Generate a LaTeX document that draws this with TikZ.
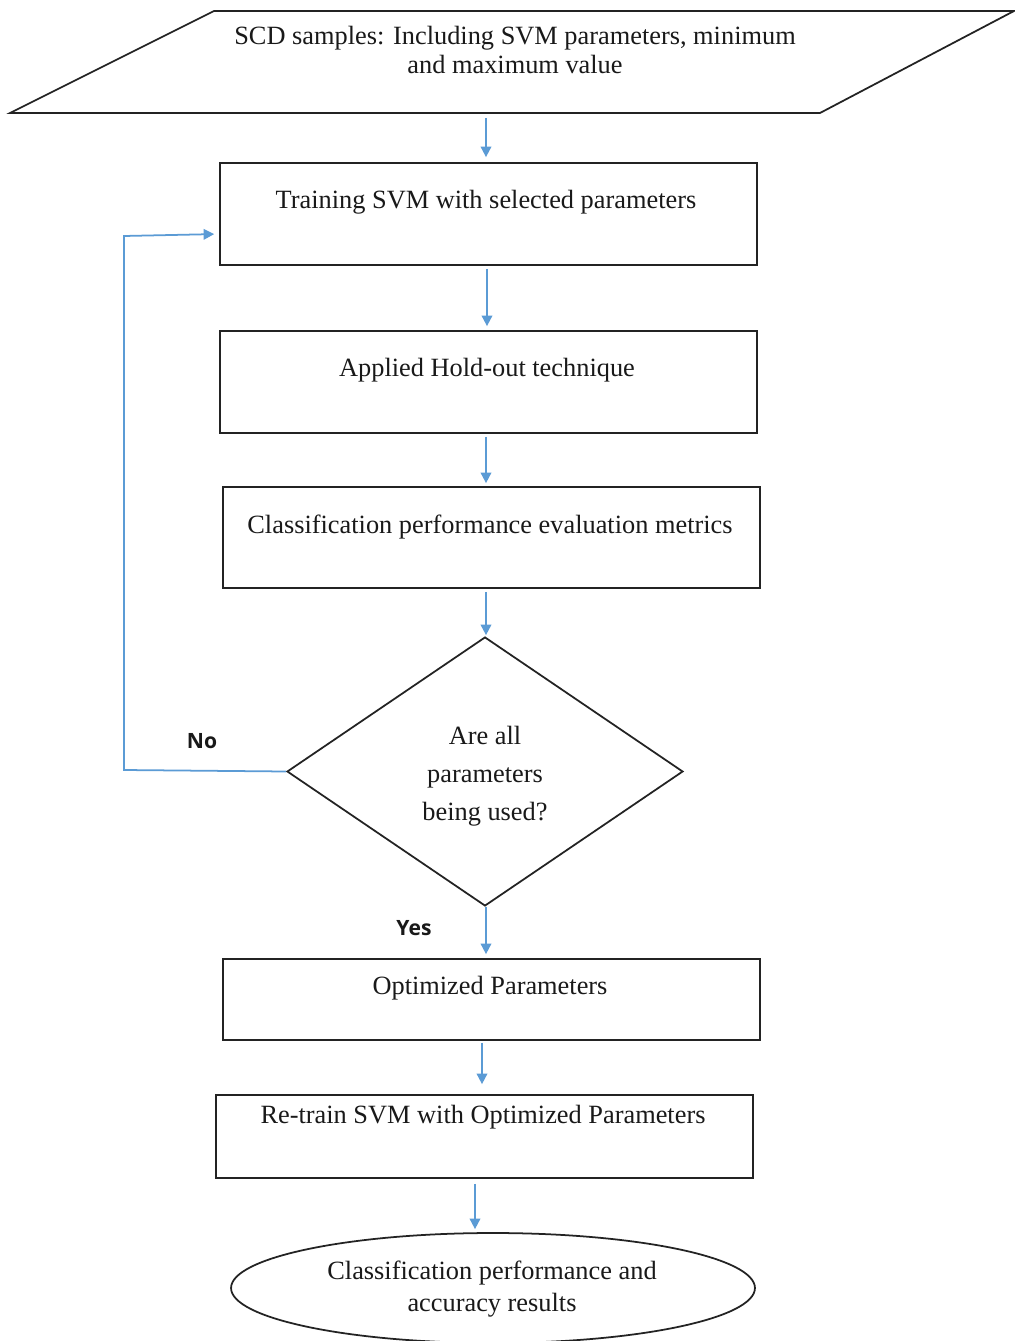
\documentclass[tikz,border=0pt]{standalone}
\usepackage{fontspec}
\setmainfont{Liberation Serif}
\newfontfamily\labelfont{Open Sans}
\usetikzlibrary{shapes.geometric,arrows.meta,calc}
\definecolor{flowblue}{RGB}{91,155,213}
\definecolor{edge}{RGB}{35,35,35}
\definecolor{ink}{RGB}{25,25,25}
\tikzset{
  box/.style={draw=edge, line width=1pt, rectangle, inner sep=0pt},
  txt/.style={text=ink, align=center, inner sep=0pt, font=\fontsize{15}{17}\selectfont},
  flow/.style={draw=flowblue, line width=1pt, -{Triangle[length=6pt,width=6pt]}},
  yn/.style={text=ink, inner sep=0pt, font=\labelfont\bfseries\fontsize{12}{14}\selectfont}
}
\begin{document}
\begin{tikzpicture}[x=0.02cm, y=-0.02cm]
\useasboundingbox (0,0) rectangle (1014,1341);
\fill[white] (0,0) rectangle (1014,1341);

% input parallelogram
\draw[edge, line width=1pt] (214,11) -- (1014,11) -- (820,113) -- (10,113) -- cycle;
\coordinate (inb) at (486,113);
\node[txt, font=\fontsize{15}{17}\selectfont] (intext) at (515,50) {SCD samples: Including SVM parameters, minimum\\and maximum value};

% process boxes
\node[box, minimum width=10.74cm, minimum height=2.04cm] (b1) at (488.5,214) {};
\node[txt] (t1) at (486,202) {Training SVM with selected parameters};

\node[box, minimum width=10.74cm, minimum height=2.04cm] (b2) at (488.5,382) {};
\node[txt] (t2) at (487,370) {Applied Hold-out technique};

\node[box, minimum width=10.74cm, minimum height=2.02cm] (b3) at (491.5,537.5) {};
\node[txt] (t3) at (490,527) {Classification performance evaluation metrics};

% decision
\node[draw=edge, line width=1pt, diamond, aspect=1.472, minimum width=7.92cm, minimum height=5.38cm, inner sep=0pt] (dec) at (485,771.5) {};
\node[txt, font=\fontsize{15}{21.5}\selectfont] (dt) at (485,776) {Are all\\parameters\\being used?};

\node[box, minimum width=10.74cm, minimum height=1.62cm] (b4) at (491.5,999.5) {};
\node[txt] (t4) at (490,988) {Optimized Parameters};

\node[box, minimum width=10.74cm, minimum height=1.66cm] (b5) at (484.5,1136.5) {};
\node[txt] (t5) at (483,1117) {Re-train SVM with Optimized Parameters};

% terminal
\node[draw=edge, line width=1pt, ellipse, minimum width=10.48cm, minimum height=2.2cm, inner sep=0pt] (res) at (493,1288) {};
\node[txt, font=\fontsize{15}{18.7}\selectfont] (rt) at (492,1289) {Classification performance and\\accuracy results};

% branch labels
\node[yn] (no) at (202,741) {No};
\node[yn] (yes) at (414,928) {Yes};

% connectors
\draw[flow, shorten <=0.1cm, shorten >=0.1cm] (inb) -- (b1.north -| inb);
\draw[flow, shorten <=0.06cm, shorten >=0.08cm] ($(b1.south)+(-1.5,0)$) -- ($(b2.north)+(-1.5,0)$);
\draw[flow, shorten <=0.06cm, shorten >=0.06cm] ($(b2.south)+(-2.5,0)$) -- ($(b3.north)+(-5.5,0)$);
\draw[flow, shorten <=0.06cm, shorten >=0.02cm] ($(b3.south)+(-5.5,0)$) -- ($(dec.north)+(1,0)$);
\draw[flow, shorten <=0.0cm, shorten >=0.08cm] ($(dec.south)+(1,0)$) -- ($(b4.north)+(-5.5,0)$);
\draw[flow, shorten <=0.04cm, shorten >=0.2cm] ($(b4.south)+(-9.5,0)$) -- ($(b5.north)+(-2.5,0)$);
\draw[flow, shorten <=0.1cm, shorten >=0.06cm] ($(b5.south)+(-9.5,0)$) -- ($(res.north)+(-18,0)$);
\draw[flow, shorten >=0.1cm] (dec.west) -- (124,770) -- (124,236) -- ($(b1.west)+(0,20)$);
\end{tikzpicture}
\end{document}
